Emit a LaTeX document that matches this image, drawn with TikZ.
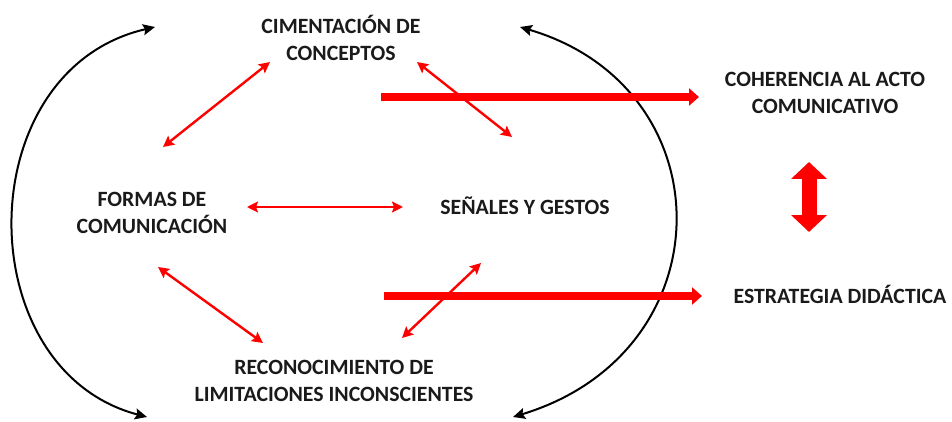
\documentclass[tikz,border=0pt]{standalone}
\usepackage{fontspec}
\setmainfont{Carlito}
\usetikzlibrary{arrows.meta,positioning,calc}
\definecolor{txtgray}{HTML}{1A1A1A}
\tikzset{%
  every concept/.style={
    font=\bfseries\fontsize{21.8}{27.5}\selectfont,
    text=txtgray,
    align=center,
    inner sep=0pt
  },
  red link/.style={
    draw=red,
    line width=2.4pt,
    {Stealth[length=11pt,width=11pt,inset=2pt]}-{Stealth[length=11pt,width=11pt,inset=2pt]}
  },
  black bend/.style={
    draw=black,
    line width=2pt,
    {Stealth[length=12pt,width=11pt,inset=2pt]}-{Stealth[length=12pt,width=11pt,inset=2pt]}
  },
  thick flow/.style={
    draw=red,
    line width=8pt,
    -{Triangle[length=10pt,width=17pt]}
  },
  big swap/.style={
    draw=red,
    line width=15pt,
    {Triangle[length=17pt,width=35pt]}-{Triangle[length=17pt,width=35pt]}
  },
}

\begin{document}
\begin{tikzpicture}[x=1pt, y=-1pt]
\useasboundingbox (0,0) rectangle (952,422);

\node [every concept] (cim) at (341,38) {CIMENTACIÓN DE\\CONCEPTOS};
\node [every concept] (formas) at (152,213) {FORMAS DE\\COMUNICACIÓN};
\node [every concept] (senales) at (525,206) {SEÑALES Y GESTOS};
\node [every concept] (recon) at (334,381) {RECONOCIMIENTO DE\\LIMITACIONES INCONSCIENTES};
\node [every concept] (coher) at (825,93) {COHERENCIA AL ACTO\\COMUNICATIVO};
\node [every concept] (estrat) at (840,294) {ESTRATEGIA DIDÁCTICA};

\coordinate (left-top) at (155,27);
\coordinate (left-bottom) at (147,417);
\coordinate (right-top) at (520,27);
\coordinate (right-bottom) at (513,417);
\coordinate (flow-1) at (381,97);
\coordinate (flow-2) at (384,296);

\draw [black bend] (left-top) .. controls (-32,70) and (-32,370) .. (left-bottom);
\draw [black bend] (right-top) .. controls (727,88) and (727,352) .. (right-bottom);

\foreach \from/\fx/\fy/\to/\tx/\ty in {cim/-71/24/formas/11/-66,
                                       cim/76/24/senales/-13/-69,
                                       formas/95/-6/senales/-122/1,
                                       formas/6/54/recon/-71/-38,
                                       recon/68/-43/senales/-44/57}
  \draw [red link] ([shift={(\fx,\fy)}]\from.center) -- ([shift={(\tx,\ty)}]\to.center);

\draw [thick flow] (flow-1) -- ([shift={(-126,4)}]coher.center);
\draw [thick flow] (flow-2) -- ([shift={(-138,2)}]estrat.center);

\draw [big swap] ([shift={(-16,69)}]coher.center) -- ([shift={(-31,-62)}]estrat.center);

\end{tikzpicture}
\end{document}
